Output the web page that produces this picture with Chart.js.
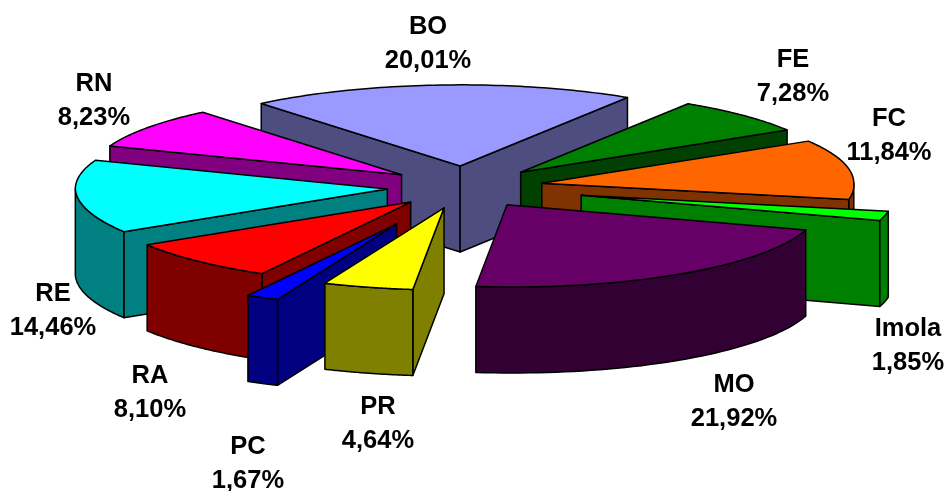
<!DOCTYPE html>
<html><head><meta charset="utf-8">
<style>html,body{margin:0;padding:0;background:#fff}#w{width:947px;height:491px}</style>
<script src="https://cdn.jsdelivr.net/npm/chart.js@4/dist/chart.umd.js"></script>
</head><body><div id="w"><canvas id="c"></canvas></div>
<script>
const categories = ["BO","FE","FC","Imola","MO","PR","PC","RA","RE","RN"];
const values = [20.01,7.28,11.84,1.85,21.92,4.64,1.67,8.10,14.46,8.23];
const valueLabels = ["20,01%","7,28%","11,84%","1,85%","21,92%","4,64%","1,67%","8,10%","14,46%","8,23%"];
const explode = [78,78,78,120,78,80,153,78,78,78];
const topColors = ["#9999FF","#008000","#FF6600","#00FF00","#660066","#FFFF00","#0000FF","#FF0000","#00FFFF","#FF00FF"];
const sideColors = ["#4D4D80","#004000","#803300","#008000","#330033","#808000","#000080","#800000","#008080","#800080"];
const labelCenters = [[428,44],[793,77],[889,136],[908,346],[734,402],[378,424],[248,464],[150,393],[53,311],[94,101]];
const SQUASH = 0.27, SQUASH_BACK = 0.26, DEPTH = 86, FRONT_SHIFT_X = 6, FRONT_SHIFT_Y = -2;

class Arc3D extends Chart.ArcElement {
  draw(ctx){
    const {x,y,startAngle:a0,endAngle:a1,outerRadius:R} = this.getProps(['x','y','startAngle','endAngle','outerRadius']);
    const o = this.options, mid=(a0+a1)/2, off=o.offset||0;
    const cx = x+off*Math.cos(mid), cy = y+off*SQUASH*Math.sin(mid);
    const front = a=>Math.max(0,Math.sin(a));
    const px = a=>cx+R*Math.cos(a)+FRONT_SHIFT_X*front(a);
    const py = a=>{const s=Math.sin(a);return cy+R*(s<0?SQUASH_BACK:SQUASH)*s+FRONT_SHIFT_Y*front(a);};
    ctx.save();
    ctx.lineWidth=1.5; ctx.strokeStyle='#000'; ctx.lineJoin='round';
    const side=o.sideColor;
    const wall=a=>{ctx.beginPath();ctx.moveTo(cx,cy);ctx.lineTo(px(a),py(a));ctx.lineTo(px(a),py(a)+DEPTH);ctx.lineTo(cx,cy+DEPTH);ctx.closePath();ctx.fillStyle=side;ctx.fill();ctx.stroke();};
    // radial faces that look towards the viewer
    if(Math.cos(a0)<0) wall(a0);
    if(Math.cos(a1)>0) wall(a1);
    // outer wall: the visible part of the rim lies between 0 and 180 degrees
    const TAU=Math.PI*2; let s=a0, e=a1;
    const k=Math.floor(s/TAU); s-=k*TAU; e-=k*TAU;
    const ranges=[[s,Math.min(e,Math.PI)]]; if(e>TAU) ranges.push([TAU,Math.min(e,TAU+Math.PI)]);
    for(const [p,q] of ranges){ if(q<=p) continue;
      const n=48; ctx.beginPath();
      for(let i=0;i<=n;i++){const t=p+(q-p)*i/n; i?ctx.lineTo(px(t),py(t)):ctx.moveTo(px(t),py(t));}
      for(let i=n;i>=0;i--){const t=p+(q-p)*i/n; ctx.lineTo(px(t),py(t)+DEPTH);}
      ctx.closePath();ctx.fillStyle=side;ctx.fill();ctx.stroke();
    }
    // top face
    ctx.beginPath();ctx.moveTo(cx,cy);
    for(let i=0;i<=64;i++){const t=a0+(a1-a0)*i/64;ctx.lineTo(px(t),py(t));}
    ctx.closePath();ctx.fillStyle=o.backgroundColor;ctx.fill();ctx.stroke();
    ctx.restore();
  }
}
Arc3D.id='arc3d';
Arc3D.defaults={...Chart.ArcElement.defaults,sideColor:'#000'};
Arc3D.defaultRoutes=Chart.ArcElement.defaultRoutes;
Arc3D.descriptors=Chart.ArcElement.descriptors;

class Pie3D extends Chart.PieController {
  draw(){
    const els=(this._cachedMeta.data||[]).slice();
    const depth=e=>Math.sin((e.startAngle+e.endAngle)/2);
    els.sort((p,q)=>depth(p)-depth(q));
    for(const e of els) e.draw(this._ctx,this.chart.chartArea);
  }
}
Pie3D.id='pie3d';
Pie3D.defaults={dataElementType:'arc3d'};
Pie3D.overrides=Chart.PieController.overrides;
Chart.register(Arc3D,Pie3D);

const labelPlugin={id:'sliceLabels',afterDraw(chart){
  const ctx=chart.ctx; ctx.save();
  ctx.font='bold 25.5px "Liberation Sans", Arial, sans-serif';
  ctx.fillStyle='#000';ctx.textAlign='center';ctx.textBaseline='middle';
  categories.forEach((c,i)=>{
    const [x,y]=labelCenters[i];
    ctx.fillText(c,x,y-17);
    ctx.fillText(valueLabels[i],x,y+17);
  });
  ctx.restore();
}};

new Chart(document.getElementById('c'),{
  type:'pie3d',
  data:{labels:categories,datasets:[{data:values,backgroundColor:topColors,sideColor:sideColors,offset:explode,borderColor:'#000',borderWidth:1}]},
  options:{
    responsive:true,maintainAspectRatio:false,animation:false,
    radius:312,rotation:-39.6,
    layout:{padding:{left:0,right:17,top:0,bottom:117}},
    events:[],
    plugins:{legend:{display:false},tooltip:{enabled:false}}
  },
  plugins:[labelPlugin]
});
</script></body></html>
